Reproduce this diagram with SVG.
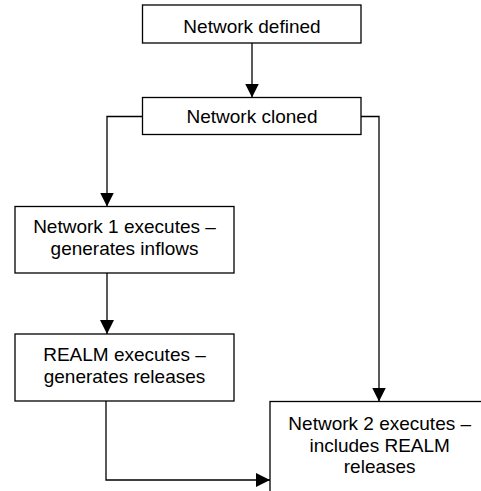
<svg xmlns="http://www.w3.org/2000/svg" width="481" height="491" viewBox="0 0 481 491">
<defs>
<style>
.box{fill:#fff;stroke:#000;stroke-width:1.3}
.t{font-family:"Liberation Sans",Arial,sans-serif;font-size:19px;fill:#000;text-anchor:middle}
.c{fill:none;stroke:#000;stroke-width:1.3}
</style>
<marker id="ah" viewBox="0 0 14 14" refX="14" refY="7" markerWidth="14" markerHeight="14" markerUnits="userSpaceOnUse" orient="auto">
<path d="M0,0 L14,7 L0,14 Z" fill="#000"/>
</marker>
</defs>
<rect width="481" height="491" fill="#fff"/>
<g id="connectors">
<path class="c" d="M252,43 V97.5" marker-end="url(#ah)"/>
<path class="c" d="M143,116.5 H107 V206.5" marker-end="url(#ah)"/>
<path class="c" d="M107,273 V334" marker-end="url(#ah)"/>
<path class="c" d="M361,116.5 H379 V401.5" marker-end="url(#ah)"/>
<path class="c" d="M106,401 V480 H270" marker-end="url(#ah)"/>
</g>
<g id="n1"><rect class="box" x="142.5" y="5" width="218.5" height="38"/><text class="t" x="252" y="32.5">Network defined</text></g>
<g id="n2"><rect class="box" x="142.5" y="97.5" width="218.5" height="37"/><text class="t" x="252" y="123">Network cloned</text></g>
<g id="n3"><rect class="box" x="15" y="206.5" width="219" height="66.5"/><text class="t" x="124.5" y="233">Network 1 executes –</text><text class="t" x="124.5" y="254.5">generates inflows</text></g>
<g id="n4"><rect class="box" x="15" y="334" width="219" height="67"/><text class="t" x="124.5" y="361">REALM executes –</text><text class="t" x="124.5" y="382.5">generates releases</text></g>
<g id="n5"><rect class="box" x="270" y="401.5" width="220" height="100"/><text class="t" x="379.7" y="430">Network 2 executes –</text><text class="t" x="379.7" y="451.5">includes REALM</text><text class="t" x="379.7" y="473">releases</text></g>
</svg>
